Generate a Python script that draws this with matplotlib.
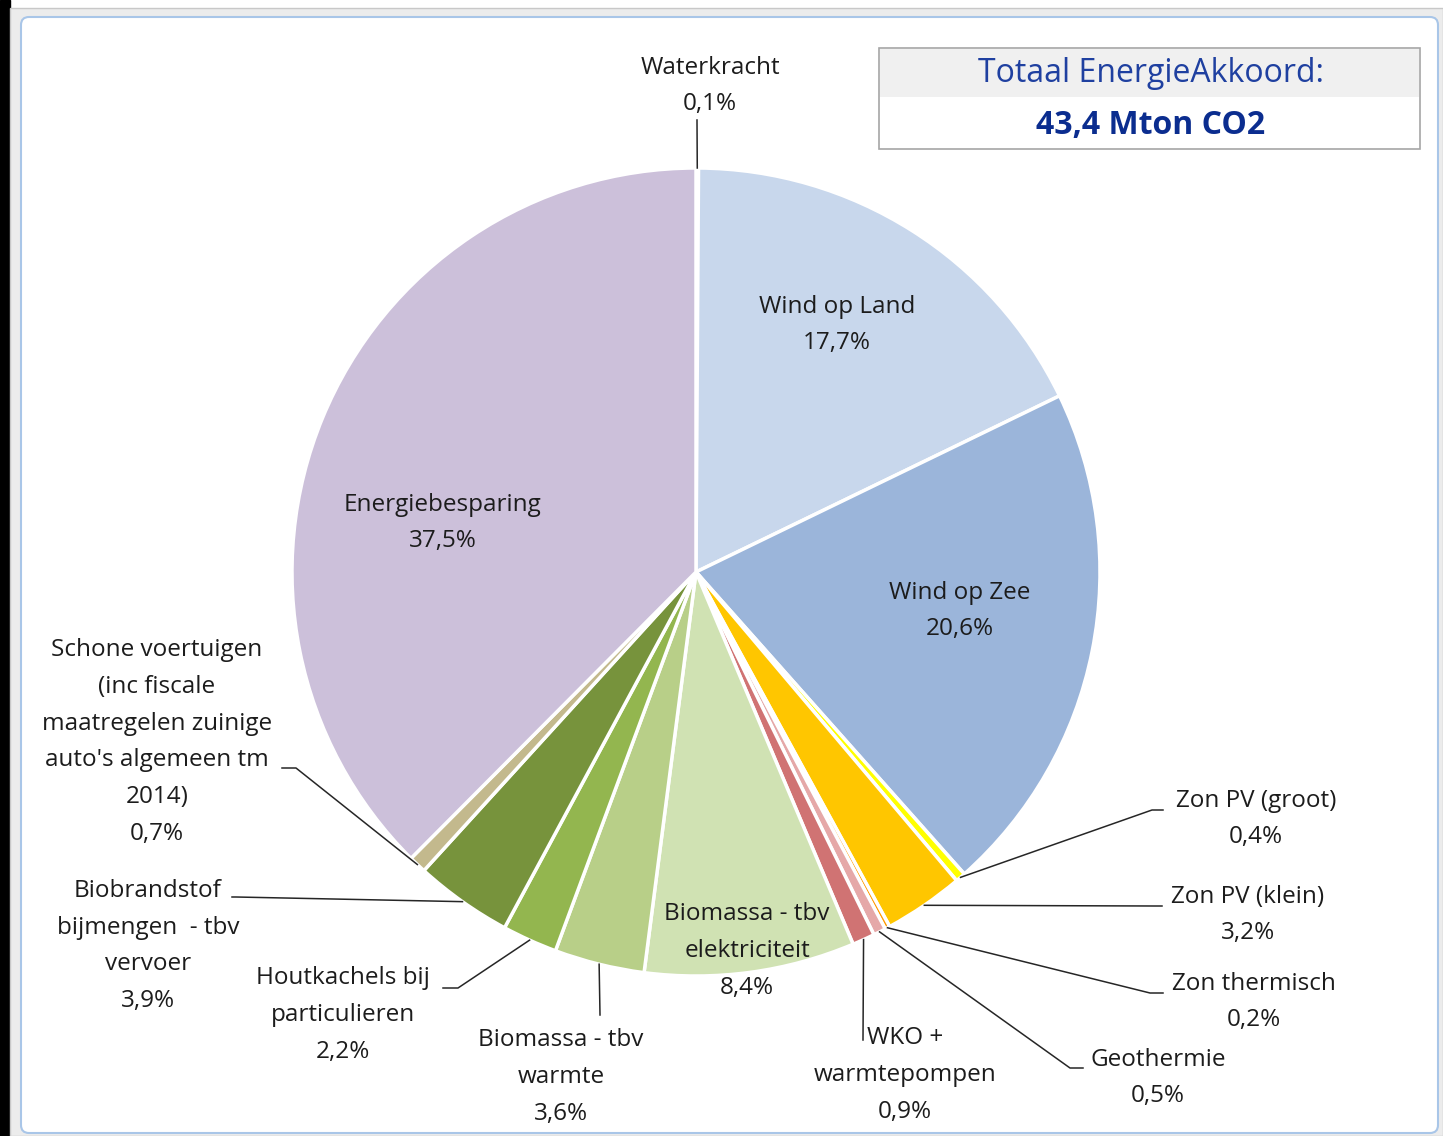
import matplotlib.pyplot as plt
from matplotlib.patches import Rectangle, FancyBboxPatch
import numpy as np

plt.rcParams['font.family'] = ['Open Sans', 'DejaVu Sans']

# data
labels = ["Waterkracht", "Wind op Land", "Wind op Zee", "Zon PV (groot)", "Zon PV (klein)",
          "Zon thermisch", "Geothermie", "WKO +\nwarmtepompen", "Biomassa - tbv\nelektriciteit",
          "Biomassa - tbv\nwarmte", "Houtkachels bij\nparticulieren",
          "Biobrandstof\nbijmengen  - tbv\nvervoer",
          "Schone voertuigen\n(inc fiscale\nmaatregelen zuinige\nauto's algemeen tm\n2014)",
          "Energiebesparing"]
shares = [0.1, 17.7, 20.6, 0.4, 3.2, 0.2, 0.5, 0.9, 8.4, 3.6, 2.2, 3.9, 0.7, 37.5]
colors = ["#6f5a8e", "#c8d7ec", "#9bb5da", "#ffff00", "#ffc600", "#ff9a00", "#e5a8a8",
          "#d07373", "#d0e2b3", "#b8cf88", "#93b64f", "#77933c", "#c3b98d", "#ccc0da"]
total_txt = "43,4 Mton CO2"

W, H = 1443, 1136
fig = plt.figure(figsize=(W / 100, H / 100), dpi=100)
ax = fig.add_axes([0, 0, 1, 1])

def Y(y):
    return H - y

# window frame
ax.add_patch(Rectangle((0, 0), 10, H, color="black", zorder=0))
ax.add_patch(Rectangle((10, 0), W - 10, Y(8), facecolor="#ececec", edgecolor="#c8c8c8", lw=1, zorder=0))
ax.add_patch(FancyBboxPatch((21, Y(1133)), 1438 - 21, 1133 - 17,
                            boxstyle="round,pad=0,rounding_size=8",
                            facecolor="white", edgecolor="#a9c6e8", lw=1.5, zorder=0))

cx, cy, r = 696, Y(572), 404
wedges, _ = ax.pie(shares, colors=colors, startangle=90, counterclock=False,
                   center=(cx, cy), radius=r,
                   wedgeprops=dict(edgecolor="white", linewidth=2.5))
ax.set_xlim(0, W)
ax.set_ylim(0, H)
ax.set_aspect('equal')
ax.axis('off')

fs = 17.5
ls = 1.72
tc = "#1c1c1c"
pct = [("%.1f%%" % s).replace(".", ",") for s in shares]

# inside labels: index -> (x, y)
inside = {1: (837, 325), 2: (960, 611), 8: (747, 951), 13: (443, 523)}
for i, (x, y) in inside.items():
    ax.text(x, Y(y), labels[i] + "\n" + pct[i], ha="center", va="center",
            fontsize=fs, color=tc, linespacing=ls)

# outside labels: index -> (text x, text y, elbow point, line end)
outside = {
    0: (710, 86, (697, 120), (697, 120)),
    3: (1256, 819, (1152, 810), (1163, 810)),
    4: (1248, 915, (1155, 906), (1162, 906)),
    5: (1254, 1002, (1150, 993), (1163, 993)),
    6: (1158, 1078, (1070, 1068), (1083, 1068)),
    7: (905, 1075, (863, 1040), (863, 1040)),
    9: (561, 1077, (600, 1015), (600, 1015)),
    10: (343, 1015, (458, 988), (443, 988)),
    11: (148, 946, (236, 897), (232, 897)),
    12: (157, 742, (296, 768), (282, 768)),
}
for i, (x, y, elbow, end) in outside.items():
    w = wedges[i]
    ang = np.deg2rad((w.theta1 + w.theta2) / 2)
    ax0, ay0 = cx + r * np.cos(ang), cy + r * np.sin(ang)
    ax.plot([ax0, elbow[0], end[0]], [ay0, Y(elbow[1]), Y(end[1])],
            color="#262626", lw=1.1, zorder=3)
    ax.text(x, Y(y), labels[i] + "\n" + pct[i], ha="center", va="center",
            fontsize=fs, color=tc, linespacing=ls)

# total box
ax.add_patch(Rectangle((879, Y(149)), 1420 - 879, 101, facecolor="white",
                       edgecolor="#a6a6a6", lw=1.2, zorder=4))
ax.add_patch(Rectangle((880, Y(97)), 1419 - 880, 48, facecolor="#f0f0f0",
                       edgecolor="none", zorder=4))
ax.text(1151, Y(74), "Totaal EnergieAkkoord:", ha="center", va="center",
        fontsize=23, color="#1f40a0", zorder=5)
ax.text(1151, Y(126), total_txt, ha="center", va="center",
        fontsize=23, fontweight="bold", color="#0b2d8f", zorder=5)

fig.savefig("out.png", dpi=100)
